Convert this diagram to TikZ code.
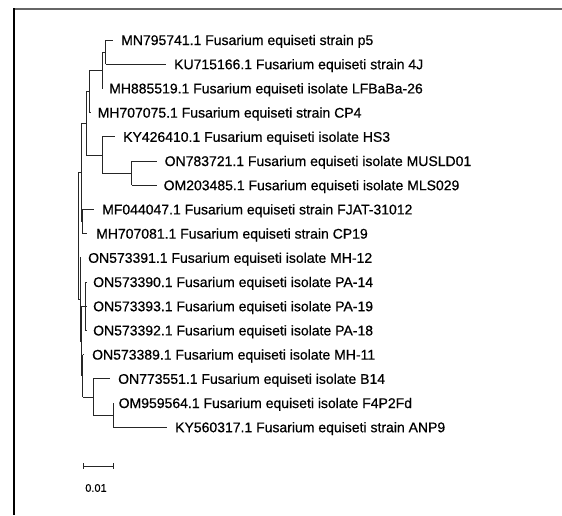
\documentclass[tikz,border=0pt]{standalone}
\usepackage{fontspec}
\newfontfamily\labfont[FakeBold=0.6]{Liberation Sans}
\newcommand\brvert[3]{\draw[br] (#1 |- #2) -- (#1 |- #3);}
\newcommand\bredge[2]{\draw[br] (#1 |- #2) -- (#2);}
\begin{document}
\begin{tikzpicture}[x=1pt,y=-1pt,
  br/.style={line width=0.9pt, black!85},
  lab/.style={font=\labfont\fontsize{14}{16}\selectfont, anchor=base west, inner sep=0pt, text=black},
  sclab/.style={font=\labfont\fontsize{11}{13}\selectfont, inner sep=0pt, text=black}]
\useasboundingbox (0,0) rectangle (562,515);
% frame
\draw[line width=1.5pt, black!60] (14,9) -- (562,9);
\draw[line width=1.6pt, black] (14,8.3) -- (14,515);
% internal nodes
\coordinate (na) at (105.5,52.1);
\coordinate (nb) at (102,70.25);
\coordinate (nc) at (89,91.4);
\coordinate (nk) at (131.7,173.1);
\coordinate (nd) at (102,155);
\coordinate (ne) at (86,123.2);
\coordinate (nm) at (82,221.5);
\coordinate (nf) at (81,172.4);
\coordinate (np) at (85,306.2);
\coordinate (nw) at (113,415.1);
\coordinate (nv) at (93,397);
\coordinate (nu) at (82.5,375.8);
\coordinate (nt) at (81.5,341);
\coordinate (ns) at (80,299.4);
\coordinate (nr) at (78,236);
% tips
\coordinate (l1) at (113,40);
\coordinate (l2) at (166,64.2);
\coordinate (l3) at (103,88.4);
\coordinate (l4) at (90.5,112.6);
\coordinate (l5) at (115,136.8);
\coordinate (l6) at (156.5,161);
\coordinate (l7) at (156.5,185.2);
\coordinate (l8) at (94,209.4);
\coordinate (l9) at (87,233.6);
\coordinate (l10) at (81,257.8);
\coordinate (l11) at (86.5,282);
\coordinate (l12) at (86.5,306.2);
\coordinate (l13) at (86.5,330.4);
\coordinate (l14) at (84,354.6);
\coordinate (l15) at (110,378.8);
\coordinate (l16) at (113.5,403);
\coordinate (l17) at (167,427.2);
% clades
\brvert{na}{l1}{l2} \bredge{na}{l1} \bredge{na}{l2}
\brvert{nb}{na}{l3} \bredge{nb}{na} \bredge{nb}{l3}
\brvert{nc}{nb}{l4} \bredge{nc}{nb} \bredge{nc}{l4}
\brvert{nk}{l6}{l7} \bredge{nk}{l6} \bredge{nk}{l7}
\brvert{nd}{l5}{nk} \bredge{nd}{l5} \bredge{nd}{nk}
\brvert{ne}{nc}{nd} \bredge{ne}{nc} \bredge{ne}{nd}
\brvert{nm}{l8}{l9} \bredge{nm}{l8} \bredge{nm}{l9}
\brvert{nf}{ne}{nm} \bredge{nf}{ne} \bredge{nf}{nm}
\brvert{np}{l11}{l13} \bredge{np}{l11} \bredge{np}{l12} \bredge{np}{l13}
\brvert{nw}{l16}{l17} \bredge{nw}{l16} \bredge{nw}{l17}
\brvert{nv}{l15}{nw} \bredge{nv}{l15} \bredge{nv}{nw}
\brvert{nu}{l14}{nv} \bredge{nu}{l14} \bredge{nu}{nv}
\brvert{nt}{np}{nu} \bredge{nt}{np} \bredge{nt}{nu}
\brvert{ns}{l10}{nt} \bredge{ns}{l10} \bredge{ns}{nt}
\brvert{nr}{nf}{ns} \bredge{nr}{nf} \bredge{nr}{ns}
% labels
\node[lab] (t1) at ([xshift=8pt,yshift=-5pt]l1) {MN795741.1 Fusarium equiseti strain p5};
\node[lab] (t2) at ([xshift=8pt,yshift=-5pt]l2) {KU715166.1 Fusarium equiseti strain 4J};
\node[lab] (t3) at ([xshift=6pt,yshift=-5pt]l3) {MH885519.1 Fusarium equiseti isolate LFBaBa-26};
\node[lab] (t4) at ([xshift=7pt,yshift=-5pt]l4) {MH707075.1 Fusarium equiseti strain CP4};
\node[lab] (t5) at ([xshift=8pt,yshift=-5pt]l5) {KY426410.1 Fusarium equiseti isolate HS3};
\node[lab] (t6) at ([xshift=8pt,yshift=-5pt]l6) {ON783721.1 Fusarium equiseti isolate MUSLD01};
\node[lab] (t7) at ([xshift=7pt,yshift=-5pt]l7) {OM203485.1 Fusarium equiseti isolate MLS029};
\node[lab] (t8) at ([xshift=8pt,yshift=-5pt]l8) {MF044047.1 Fusarium equiseti strain FJAT-31012};
\node[lab] (t9) at ([xshift=9pt,yshift=-5pt]l9) {MH707081.1 Fusarium equiseti strain CP19};
\node[lab] (t10) at ([xshift=7pt,yshift=-5pt]l10) {ON573391.1 Fusarium equiseti isolate MH-12};
\node[lab] (t11) at ([xshift=6.5pt,yshift=-5pt]l11) {ON573390.1 Fusarium equiseti isolate PA-14};
\node[lab] (t12) at ([xshift=6.5pt,yshift=-5pt]l12) {ON573393.1 Fusarium equiseti isolate PA-19};
\node[lab] (t13) at ([xshift=6.5pt,yshift=-5pt]l13) {ON573392.1 Fusarium equiseti isolate PA-18};
\node[lab] (t14) at ([xshift=8pt,yshift=-5pt]l14) {ON573389.1 Fusarium equiseti isolate MH-11};
\node[lab] (t15) at ([xshift=8pt,yshift=-5pt]l15) {ON773551.1 Fusarium equiseti isolate B14};
\node[lab] (t16) at ([xshift=5pt,yshift=-5pt]l16) {OM959564.1 Fusarium equiseti isolate F4P2Fd};
\node[lab] (t17) at ([xshift=8pt,yshift=-5pt]l17) {KY560317.1 Fusarium equiseti strain ANP9};
% scale bar
\coordinate (sb1) at (83,466);
\coordinate (sb2) at (113,466);
\draw[br] (sb1) -- (sb2);
\draw[br] ([yshift=3pt]sb1) -- ([yshift=-3pt]sb1);
\draw[br] ([yshift=3pt]sb2) -- ([yshift=-3pt]sb2);
\node[sclab] (sbl) at (96,488) {0.01};
\end{tikzpicture}
\end{document}
